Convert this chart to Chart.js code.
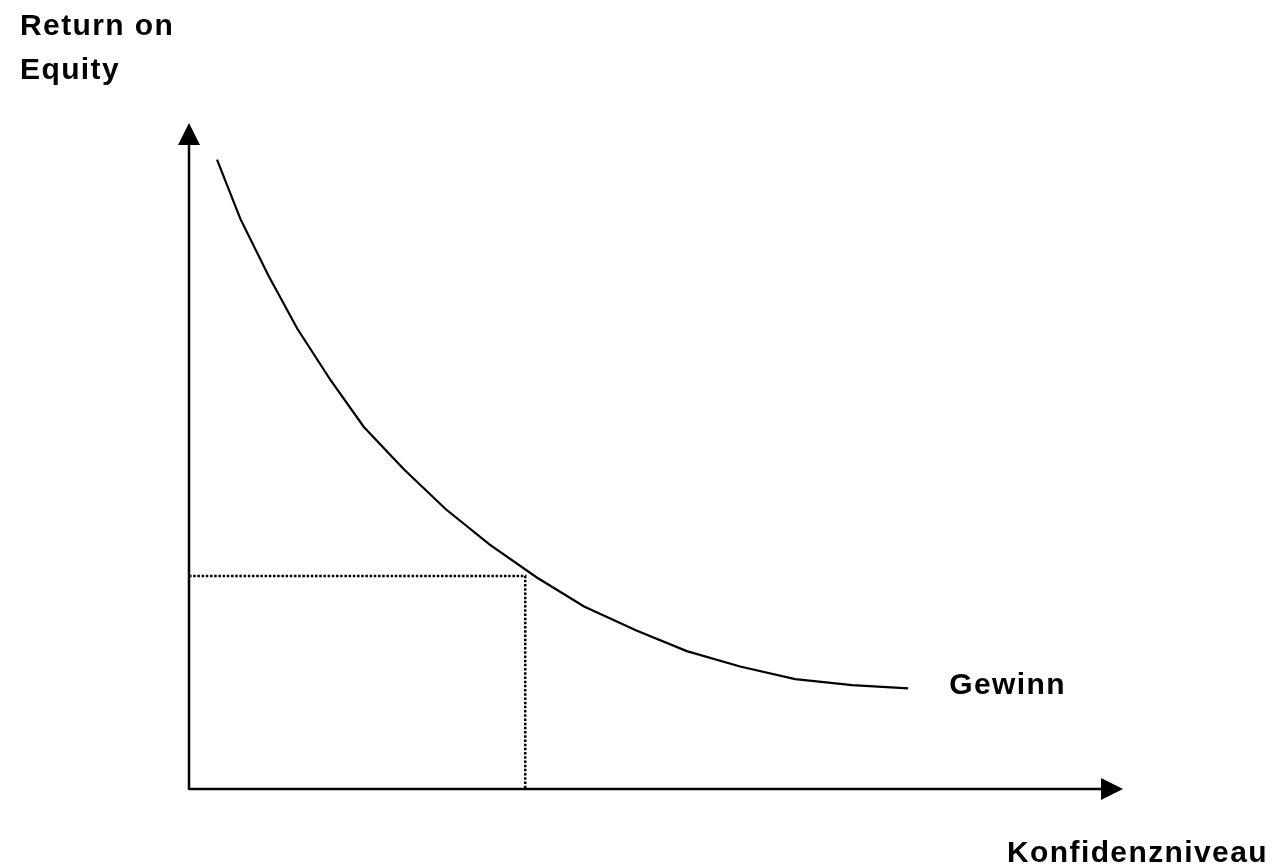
<!DOCTYPE html>
<html>
<head>
<meta charset="utf-8">
<script src="https://cdn.jsdelivr.net/npm/chart.js@4.4.1/dist/chart.umd.min.js"></script>
<style>
  html, body { margin: 0; padding: 0; background: #ffffff; }
  #wrap { position: relative; width: 1274px; height: 868px; }
</style>
</head>
<body>
<div id="wrap"><canvas id="c" width="1274" height="868"></canvas></div>
<script>
// Data (abstract units: 0..100 on both axes)
const confidenceLevel = [3.0, 5.5, 8.5, 11.6, 15.2, 18.7, 23.0, 27.5, 32.2, 37.2, 42.3, 47.9, 53.3, 59.0, 64.9, 71.0, 77.0];
const returnOnEquity  = [94.5, 85.6, 77.1, 69.1, 61.3, 54.4, 48.0, 42.0, 36.7, 31.8, 27.4, 23.8, 20.7, 18.4, 16.5, 15.6, 15.1];
const markerX = [0, 36, 36];
const markerY = [32, 32, 0];
const yAxisTitle = ["Return on", "Equity"];
const xAxisTitle = "Konfidenzniveau";
const curveLabel = "Gewinn";

const curveData = confidenceLevel.map((x, i) => ({ x: x, y: returnOnEquity[i] }));
const markerData = markerX.map((x, i) => ({ x: x, y: markerY[i] }));

const FONT = 'bold 30px "Liberation Sans", Arial, sans-serif';

const axesPlugin = {
  id: 'axesAndLabels',
  afterDatasetsDraw(chart) {
    const ctx = chart.ctx;
    const xs = chart.scales.x, ys = chart.scales.y;
    const x0 = xs.getPixelForValue(0), xEnd = xs.getPixelForValue(100);
    const y0 = ys.getPixelForValue(0), yEnd = ys.getPixelForValue(100);
    ctx.save();
    ctx.strokeStyle = '#000';
    ctx.fillStyle = '#000';
    ctx.lineWidth = 2.5;
    // y axis
    ctx.beginPath();
    ctx.moveTo(x0, y0 + 1);
    ctx.lineTo(x0, yEnd + 20);
    ctx.stroke();
    ctx.beginPath();
    ctx.moveTo(x0, yEnd);
    ctx.lineTo(x0 - 11, yEnd + 22);
    ctx.lineTo(x0 + 11, yEnd + 22);
    ctx.closePath();
    ctx.fill();
    // x axis
    ctx.beginPath();
    ctx.moveTo(x0, y0);
    ctx.lineTo(xEnd - 20, y0);
    ctx.stroke();
    ctx.beginPath();
    ctx.moveTo(xEnd, y0);
    ctx.lineTo(xEnd - 22, y0 - 11);
    ctx.lineTo(xEnd - 22, y0 + 11);
    ctx.closePath();
    ctx.fill();

    // labels
    ctx.font = FONT;
    try { ctx.letterSpacing = '1.4px'; } catch (e) {}
    ctx.textBaseline = 'alphabetic';
    ctx.textAlign = 'left';
    ctx.fillText(yAxisTitle[0], 20, 35);
    ctx.fillText(yAxisTitle[1], 20, 79);
    const lastIdx = confidenceLevel.length - 1;
    const lx = xs.getPixelForValue(confidenceLevel[lastIdx]);
    const ly = ys.getPixelForValue(returnOnEquity[lastIdx]);
    ctx.fillText(curveLabel, lx + 41, ly + 6);
    ctx.fillText(xAxisTitle, 1007, 862);
    ctx.restore();
  }
};

new Chart(document.getElementById('c'), {
  type: 'line',
  data: {
    datasets: [
      {
        label: curveLabel,
        data: curveData,
        borderColor: '#000',
        borderWidth: 2.2,
        pointRadius: 0,
        tension: 0,
        fill: false
      },
      {
        label: 'marker',
        data: markerData,
        borderColor: '#000',
        borderWidth: 2.5,
        borderDash: [2.5, 1.7],
        borderCapStyle: 'butt',
        pointRadius: 0,
        tension: 0,
        fill: false
      }
    ]
  },
  options: {
    responsive: false,
    animation: false,
    events: [],
    layout: { padding: { left: 189, top: 123, right: 151, bottom: 79 } },
    plugins: { legend: { display: false }, tooltip: { enabled: false } },
    scales: {
      x: { type: 'linear', min: 0, max: 100, display: false },
      y: { type: 'linear', min: 0, max: 100, display: false }
    }
  },
  plugins: [axesPlugin]
});
</script>
</body>
</html>
